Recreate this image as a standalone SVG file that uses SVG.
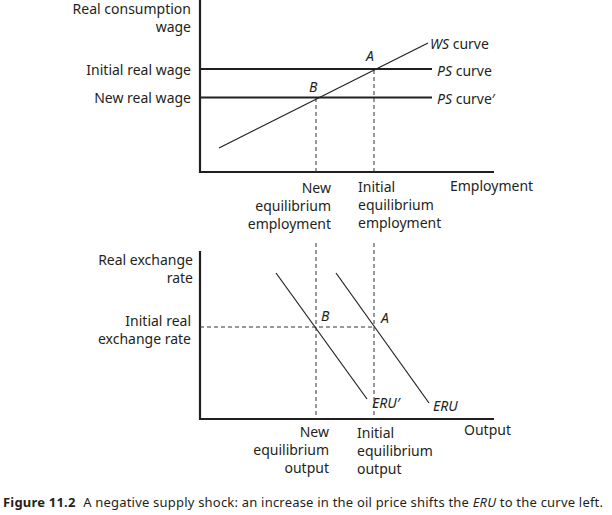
<svg xmlns="http://www.w3.org/2000/svg" width="612" height="515" viewBox="0 0 612 515">
<style>
text { font-family: "Noto Sans", "Open Sans", sans-serif; font-size: 14px; fill: #231f20; }
.r { text-anchor: end; }
.i { font-style: italic; }
.axis { stroke: #231f20; stroke-width: 2.2; fill: none; }
.ps { stroke: #231f20; stroke-width: 1.8; fill: none; }
.curve { stroke: #231f20; stroke-width: 1.2; fill: none; }
.dash { stroke: #333; stroke-width: 1; stroke-dasharray: 4 3; fill: none; }
.cap { font-size: 13px; }
</style>
<rect width="612" height="515" fill="#fff"/>
<g id="top-axes">
<path class="axis" d="M200 0 V172 H494"/>
<text class="r" x="191" y="14">Real consumption</text>
<text class="r" x="191" y="32">wage</text>
<text class="r" x="191" y="75">Initial real wage</text>
<text class="r" x="191" y="103">New real wage</text>
<text x="450" y="191">Employment</text>
</g>
<g id="ps-curve">
<line class="ps" x1="200" y1="69" x2="432" y2="69"/>
<text x="437" y="76"><tspan class="i">PS</tspan> curve</text>
</g>
<g id="ps-curve-prime">
<line class="ps" x1="200" y1="97.5" x2="432" y2="97.5"/>
<text x="437" y="104"><tspan class="i">PS</tspan> curve′</text>
</g>
<g id="ws-curve">
<line class="curve" x1="219" y1="148" x2="428" y2="43"/>
<text x="430" y="49"><tspan class="i">WS</tspan> curve</text>
</g>
<g id="point-A-top"><text class="i" x="366" y="61">A</text></g>
<g id="point-B-top"><text class="i" x="309" y="92">B</text></g>
<g id="employment-labels">
<text class="r" x="331" y="193">New</text>
<text class="r" x="331" y="211">equilibrium</text>
<text class="r" x="331" y="229">employment</text>
<text x="358" y="192">Initial</text>
<text x="358" y="210">equilibrium</text>
<text x="358" y="228">employment</text>
</g>
<g id="bottom-axes">
<path class="axis" d="M200 251 V419 H494"/>
<text class="r" x="193" y="265">Real exchange</text>
<text class="r" x="193" y="283">rate</text>
<text class="r" x="191" y="326">Initial real</text>
<text class="r" x="191" y="344">exchange rate</text>
<text x="464" y="435">Output</text>
</g>
<g id="eru">
<line class="curve" x1="336" y1="273" x2="429" y2="403"/>
<text class="i" x="433" y="411">ERU</text>
</g>
<g id="eru-prime">
<line class="curve" x1="276" y1="273" x2="367" y2="399"/>
<text class="i" x="372" y="408">ERU′</text>
</g>
<g id="point-A-bottom"><text class="i" x="381" y="323">A</text></g>
<g id="point-B-bottom"><text class="i" x="321" y="321">B</text></g>
<g id="output-labels">
<text class="r" x="329" y="437">New</text>
<text class="r" x="329" y="455">equilibrium</text>
<text class="r" x="329" y="473">output</text>
<text x="357" y="438">Initial</text>
<text x="357" y="456">equilibrium</text>
<text x="357" y="474">output</text>
</g>
<g id="connectors">
<line class="dash" x1="316" y1="98" x2="316" y2="172"/>
<line class="dash" x1="374" y1="70" x2="374" y2="172"/>
<line class="dash" x1="316" y1="243" x2="316" y2="419"/>
<line class="dash" x1="374" y1="243" x2="374" y2="419"/>
<line class="dash" x1="200" y1="327" x2="374" y2="327"/>
</g>
<g id="caption">
<text class="cap" x="3" y="507" textLength="600" lengthAdjust="spacing"><tspan font-weight="bold">Figure 11.2</tspan><tspan dx="4"> A negative supply shock: an increase in the oil price shifts the </tspan><tspan class="i">ERU</tspan> to the curve left.</text>
</g>
</svg>
